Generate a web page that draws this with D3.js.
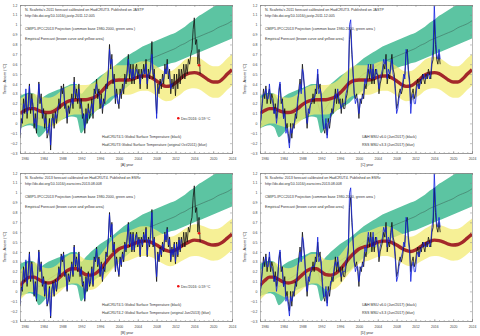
<!DOCTYPE html>
<html>
<head>
<meta charset="utf-8">
<script src="https://cdn.jsdelivr.net/npm/d3@7"></script>
<style>
body { margin: 0; background: #fff; }
svg { display: block; font-family: "Liberation Sans", Arial, sans-serif; }
</style>
</head>
<body>
<script>
// yearly grid for the bands and the forecast curves
var years = d3.range(1979, 2025);

// CMIP5 (green area) and its mean line
var greenLow = [-0.05,-0.03,-0.02,-0.04,-0.14,-0.1,-0.04,-0.01,0.02,0.04,0.06,0.07,0.06,-0.1,-0.02,0.06,0.12,0.15,0.18,0.21,0.26,0.3,0.34,0.38,0.42,0.46,0.49,0.52,0.54,0.56,0.58,0.59,0.61,0.62,0.64,0.66,0.68,0.7,0.72,0.74,0.76,0.78,0.8,0.82,0.84,0.86];
var greenHigh = [0.28,0.3,0.31,0.3,0.24,0.27,0.3,0.32,0.34,0.36,0.38,0.4,0.4,0.3,0.35,0.4,0.44,0.48,0.51,0.54,0.58,0.62,0.66,0.69,0.72,0.75,0.78,0.8,0.82,0.84,0.86,0.88,0.9,0.92,0.95,0.98,1.02,1.05,1.09,1.12,1.15,1.18,1.21,1.24,1.27,1.3];
var greenMid = [0.1,0.12,0.14,0.13,0.05,0.08,0.12,0.15,0.18,0.2,0.22,0.23,0.23,0.1,0.16,0.23,0.28,0.31,0.34,0.37,0.42,0.46,0.5,0.53,0.56,0.59,0.62,0.64,0.66,0.68,0.7,0.72,0.74,0.76,0.79,0.81,0.84,0.86,0.88,0.9,0.92,0.94,0.97,0.99,1.01,1.04];

// empirical forecast 2011 (panels A, C)
var brown2011 = [0.1,0.13,0.15,0.15,0.13,0.115,0.11,0.12,0.15,0.19,0.22,0.235,0.24,0.24,0.24,0.25,0.27,0.31,0.36,0.41,0.435,0.44,0.44,0.44,0.45,0.47,0.48,0.48,0.46,0.43,0.395,0.375,0.38,0.41,0.45,0.49,0.51,0.515,0.505,0.475,0.44,0.42,0.42,0.45,0.5,0.545];
var yellowHigh2011 = [0.25,0.28,0.3,0.3,0.28,0.265,0.26,0.27,0.3,0.34,0.37,0.385,0.39,0.39,0.39,0.4,0.42,0.46,0.51,0.56,0.585,0.59,0.59,0.59,0.6,0.62,0.63,0.63,0.61,0.58,0.545,0.525,0.53,0.56,0.6,0.645,0.665,0.675,0.665,0.635,0.6,0.58,0.58,0.61,0.66,0.7];
var yellowLow2011 = [-0.05,-0.02,0,0,-0.02,-0.035,-0.04,-0.03,0,0.04,0.07,0.085,0.09,0.09,0.09,0.1,0.12,0.16,0.21,0.26,0.285,0.29,0.29,0.29,0.3,0.32,0.33,0.33,0.31,0.28,0.245,0.225,0.23,0.26,0.29,0.33,0.35,0.355,0.345,0.315,0.28,0.26,0.26,0.29,0.34,0.385];

// empirical forecast 2013 (panels B, D)
var brown2013 = [0.06,0.11,0.145,0.145,0.12,0.095,0.085,0.095,0.125,0.17,0.21,0.23,0.23,0.2,0.17,0.165,0.18,0.22,0.28,0.34,0.39,0.43,0.45,0.46,0.48,0.5,0.51,0.51,0.495,0.47,0.44,0.415,0.405,0.42,0.45,0.48,0.505,0.52,0.515,0.5,0.48,0.47,0.475,0.5,0.54,0.58];
var yellowHigh2013 = [0.21,0.26,0.295,0.295,0.27,0.245,0.235,0.245,0.275,0.32,0.36,0.38,0.38,0.35,0.32,0.315,0.33,0.37,0.43,0.49,0.54,0.58,0.6,0.61,0.63,0.65,0.66,0.66,0.645,0.62,0.59,0.565,0.555,0.57,0.6,0.635,0.66,0.68,0.675,0.66,0.64,0.63,0.635,0.66,0.7,0.74];
var yellowLow2013 = [-0.09,-0.04,-0.005,-0.005,-0.03,-0.055,-0.065,-0.055,-0.025,0.02,0.06,0.08,0.08,0.05,0.02,0.015,0.03,0.07,0.13,0.19,0.24,0.28,0.3,0.31,0.33,0.35,0.36,0.36,0.345,0.32,0.29,0.265,0.255,0.27,0.3,0.325,0.35,0.36,0.355,0.34,0.32,0.31,0.315,0.34,0.38,0.42];

// quarterly anomalies, starting 1979 Q1
var hadcrut45 = [
 -0.15,0.05,0.0,0.25, 0.1,0.3,0.05,0.2, 0.4,0.1,0.3,0.15, -0.05,0.1,-0.1,0.2, 0.42,0.2,0.3,0.05,
 0.15,-0.05,0.1,-0.15, -0.1,0.05,-0.27,0.0, 0.1,-0.05,0.12,0.0, 0.1,0.25,0.15,0.38, 0.3,0.4,0.15,0.2,
 0.0,0.18,0.1,0.2, 0.3,0.15,0.47,0.25, 0.35,0.2,0.4,0.15, 0.25,0.05,0.1,-0.1, 0.15,0.0,0.2,0.05,
 0.1,0.25,0.05,0.35, 0.3,0.45,0.25,0.35, 0.15,0.3,0.1,0.25, 0.2,0.4,0.35,0.55, 0.8,0.55,0.7,0.4,
 0.5,0.2,0.35,0.25, 0.15,0.35,0.25,0.4, 0.3,0.5,0.4,0.55, 0.7,0.45,0.6,0.4, 0.6,0.4,0.55,0.6,
 0.45,0.55,0.35,0.55, 0.45,0.6,0.5,0.65, 0.35,0.55,0.45,0.6, 0.83,0.45,0.55,0.3, 0.1,0.4,0.3,0.45,
 0.35,0.5,0.4,0.6, 0.5,0.65,0.45,0.55, 0.3,0.45,0.35,0.5, 0.28,0.5,0.35,0.55, 0.4,0.55,0.45,0.6,
 0.45,0.6,0.5,0.65, 0.6,0.7,0.75,0.95, 1.07,0.8,0.85,0.6, 0.75,0.5
];
var hadcrut3 = [
 -0.12,0.0,0.05,0.2, 0.15,0.35,0.1,0.15, 0.38,0.15,0.25,0.2, 0.0,0.05,-0.05,0.15, 0.4,0.25,0.25,0.1,
 0.1,0.0,0.05,-0.1, -0.05,0.0,-0.22,0.05, 0.05,0.0,0.1,0.05, 0.15,0.2,0.2,0.35, 0.35,0.35,0.2,0.15,
 0.05,0.15,0.15,0.18, 0.25,0.2,0.42,0.3, 0.3,0.25,0.35,0.2, 0.2,0.1,0.05,-0.05, 0.1,0.05,0.15,0.1,
 0.15,0.2,0.1,0.3, 0.35,0.4,0.3,0.3, 0.2,0.25,0.15,0.2, 0.25,0.35,0.4,0.5, 0.75,0.6,0.65,0.45,
 0.45,0.25,0.3,0.2, 0.2,0.3,0.3,0.35, 0.35,0.45,0.45,0.5, 0.65,0.5,0.55,0.45, 0.55,0.45,0.5,0.55,
 0.5,0.5,0.4,0.5, 0.5,0.55,0.5,0.6, 0.4,0.5,0.5,0.55, 0.7,0.5,0.5,0.35, 0.05,0.35,0.35,0.4,
 0.4,0.45,0.45,0.55, 0.5,0.6,0.5,0.5, 0.35,0.4,0.4
];
var hadcrut42 = [
 -0.13,0.03,0.02,0.22, 0.12,0.32,0.08,0.18, 0.38,0.12,0.28,0.17, -0.03,0.08,-0.08,0.18, 0.4,0.22,0.28,0.07,
 0.13,-0.03,0.08,-0.13, -0.08,0.03,-0.25,0.02, 0.08,-0.03,0.1,0.02, 0.12,0.23,0.17,0.36, 0.32,0.38,0.17,0.18,
 0.02,0.16,0.12,0.19, 0.28,0.17,0.45,0.27, 0.33,0.22,0.38,0.17, 0.23,0.07,0.08,-0.08, 0.13,0.02,0.18,0.07,
 0.12,0.23,0.07,0.33, 0.32,0.43,0.27,0.33, 0.17,0.28,0.12,0.23, 0.22,0.38,0.37,0.53, 0.78,0.57,0.68,0.42,
 0.48,0.22,0.33,0.23, 0.17,0.33,0.27,0.38, 0.32,0.48,0.42,0.53, 0.68,0.47,0.58,0.42, 0.58,0.42,0.53,0.58,
 0.47,0.53,0.37,0.53, 0.47,0.58,0.52,0.63, 0.37,0.53,0.47,0.58, 0.8,0.47,0.53,0.32, 0.15,0.38,0.32,0.43,
 0.37,0.48,0.42,0.58, 0.52,0.63,0.47,0.53, 0.32,0.43,0.37,0.48, 0.3,0.48,0.37,0.52, 0.42,0.53
];
var uah60 = [
 -0.05,0.1,0.2,0.35, 0.25,0.38,0.2,0.3, 0.35,0.2,0.3,0.25, 0.1,0.2,0.05,0.15, 0.3,0.4,0.2,0.25,
 0.05,0.15,-0.05,0.0, -0.1,-0.2,0.0,-0.15, 0.0,-0.05,0.1,0.05, 0.2,0.35,0.45,0.35, 0.6,0.45,0.35,0.1,
 -0.05,0.1,0.15,0.2, 0.2,0.3,0.2,0.35, 0.3,0.5,0.35,0.4, 0.25,0.05,-0.05,-0.1, 0.0,-0.12,0.05,-0.05,
 0.05,0.15,0.1,0.2, 0.35,0.2,0.3,0.2, 0.25,0.1,0.25,0.15, 0.15,0.25,0.3,0.4, 0.85,0.95,0.7,0.5,
 0.3,0.25,0.3,0.2, 0.05,0.25,0.2,0.3, 0.25,0.4,0.35,0.45, 0.55,0.45,0.6,0.4, 0.55,0.4,0.55,0.5,
 0.5,0.3,0.4,0.45, 0.5,0.6,0.55,0.7, 0.4,0.5,0.45,0.6, 0.7,0.55,0.5,0.35, 0.15,0.2,0.3,0.35,
 0.3,0.35,0.45,0.5, 0.7,0.75,0.55,0.45, 0.2,0.3,0.35,0.25, 0.3,0.4,0.45,0.35, 0.45,0.4,0.5,0.45,
 0.4,0.5,0.45,0.55, 0.5,0.45,0.6,0.65, 1.05,0.8,0.65,0.6, 0.7,0.6
];
var rss33 = [
 0.0,0.05,0.25,0.3, 0.3,0.35,0.25,0.25, 0.4,0.25,0.25,0.2, 0.1,0.15,0.0,0.1, 0.35,0.42,0.25,0.2,
 0.05,0.1,-0.1,-0.05, -0.15,-0.25,-0.05,-0.1, -0.05,0.0,0.05,0.1, 0.25,0.3,0.4,0.3, 0.55,0.5,0.3,0.15,
 0.0,0.15,0.1,0.2, 0.25,0.25,0.25,0.3, 0.35,0.55,0.3,0.35, 0.3,0.1,-0.05,-0.05, 0.05,-0.15,0.0,0.0,
 0.1,0.1,0.15,0.25, 0.3,0.25,0.35,0.25, 0.2,0.15,0.2,0.2, 0.2,0.3,0.35,0.45, 1.0,1.05,0.75,0.55,
 0.3,0.2,0.25,0.25, 0.1,0.2,0.25,0.25, 0.3,0.45,0.4,0.5, 0.6,0.5,0.55,0.45, 0.6,0.45,0.5,0.55,
 0.45,0.35,0.45,0.5, 0.55,0.65,0.6,0.65, 0.45,0.55,0.5,0.55, 0.65,0.5,0.45,0.3, 0.1,0.15,0.25,0.3,
 0.35,0.4,0.5,0.45, 0.75,0.72,0.5,0.4, 0.1,0.25,0.3,0.2, 0.2,0.35,0.4,0.35, 0.4,0.45,0.45,0.5,
 0.45,0.45,0.5,0.5, 0.45,0.5,0.65,0.75, 1.2,0.9,0.7,0.65, 0.75,0.65
];

var xTicks = d3.range(1980, 2025, 4);
var yTicks = d3.range(-3, 13).map(function (d) { return d / 10; });

var headA = ["N. Scafetta's 2011 forecast calibrated on HadCRUT3. Published on JASTP",
             "http://dx.doi.org/10.1016/j.jastp.2011.12.005"];
var headB = ["N. Scafetta: 2013 forecast calibrated on HadCRUT4. Published on ESRv",
             "http://dx.doi.org/10.1016/j.earscirev.2013.08.008"];
var cmipText = "CMIP5-IPCC2013 Projection (common base 1980-2000, green area )";
var empText = "Empirical Forecast (brown curve and yellow area)";

var panels = [
  {dx: 0, dy: 0, tag: "[A]", head: headA, brown: brown2011, yLow: yellowLow2011, yHigh: yellowHigh2011,
   black: hadcrut45, blue: hadcrut3, legX: 102, dot: true,
   legend: ["HadCRUT4.5 Global Surface Temperature (black)", "HadCRUT3 Global Surface Temperature (original Oct/2011) (blue)"]},
  {dx: 240, dy: 0, tag: "[C]", head: headA, brown: brown2011, yLow: yellowLow2011, yHigh: yellowHigh2011,
   black: uah60, blue: rss33, legX: 122, dot: false,
   legend: ["UAH MSU v6.0 (Jun/2017) (black)", "RSS MSU v3.3 (Jun/2017) (blue)"]},
  {dx: 0, dy: 168, tag: "[B]", head: headB, brown: brown2013, yLow: yellowLow2013, yHigh: yellowHigh2013,
   black: hadcrut45, blue: hadcrut42, legX: 102, dot: true,
   legend: ["HadCRUT4.5 Global Surface Temperature (black)", "HadCRUT4.2 Global Surface Temperature (original Jun/2013) (blue)"]},
  {dx: 240, dy: 168, tag: "[D]", head: headB, brown: brown2013, yLow: yellowLow2013, yHigh: yellowHigh2013,
   black: uah60, blue: rss33, legX: 122, dot: false,
   legend: ["UAH MSU v6.0 (Jun/2017) (black)", "RSS MSU v3.3 (Jun/2017) (blue)"]}
];

var svg = d3.select("body").append("svg")
    .attr("width", 480)
    .attr("height", 336);

svg.append("defs").append("clipPath").attr("id", "plotclip")
    .append("rect").attr("x", 20).attr("y", 5).attr("width", 212).attr("height", 148);

var x = d3.scaleLinear().domain([1979, 2024]).range([20, 232]);
var y = d3.scaleLinear().domain([-0.3, 1.2]).range([153, 5]);

function band(lo, hi) {
  return d3.area()
    .x(function (d, i) { return x(years[i]); })
    .y0(function (d, i) { return y(lo[i]); })
    .y1(function (d, i) { return y(hi[i]); })
    .curve(d3.curveMonotoneX)(years);
}
var yearLine = d3.line()
    .x(function (d, i) { return x(years[i]); })
    .y(function (d) { return y(d); })
    .curve(d3.curveMonotoneX);
var qLine = d3.line()
    .x(function (d, i) { return x(1979 + i / 4); })
    .y(function (d) { return y(d); });

panels.forEach(function (p) {
  var g = svg.append("g").attr("transform", "translate(" + p.dx + "," + p.dy + ")");
  var plot = g.append("g").attr("clip-path", "url(#plotclip)");

  plot.append("path").attr("d", band(greenLow, greenHigh)).attr("fill", "#5cc4a2");
  plot.append("path").attr("d", yearLine(greenMid)).attr("fill", "none")
      .attr("stroke", "#3f6f60").attr("stroke-width", 0.6);
  plot.append("path").attr("d", band(p.yLow, p.yHigh)).attr("fill", "#f2ea6e").attr("fill-opacity", 0.72);

  plot.append("path").attr("d", yearLine(p.brown)).attr("fill", "none")
      .attr("stroke", "#a3282a").attr("stroke-width", 3.4);

  plot.append("path").attr("d", qLine(p.black)).attr("fill", "none")
      .attr("stroke", "#111").attr("stroke-width", 0.8);
  plot.append("path").attr("d", qLine(p.blue)).attr("fill", "none")
      .attr("stroke", "#1020e0").attr("stroke-width", 0.8);

  if (p.dot) {
    plot.append("circle").attr("cx", x(2017.0)).attr("cy", y(0.59)).attr("r", 1.3).attr("fill", "#ee1111");
    g.append("circle").attr("cx", 178.3).attr("cy", 118.3).attr("r", 1.3).attr("fill", "#ee1111");
    g.append("text").attr("x", 181).attr("y", 119.6).attr("font-size", 3.6).attr("fill", "#333")
        .text("Dec/2016: 0.59 \u00b0C");
  }

  // axes, ticks pointing inward
  var ax = [
    d3.axisBottom(x).tickValues(xTicks).tickFormat(d3.format("d")).tickSize(-2).tickPadding(4.6),
    d3.axisTop(x).tickValues(xTicks).tickFormat("").tickSize(-2)
  ];
  g.append("g").attr("transform", "translate(0,153)").call(ax[0]);
  g.append("g").attr("transform", "translate(0,5)").call(ax[1]);
  g.append("g").attr("transform", "translate(0,153)")
      .call(d3.axisBottom(x).ticks(45).tickFormat("").tickSize(-1));
  g.append("g").attr("transform", "translate(0,5)")
      .call(d3.axisTop(x).ticks(45).tickFormat("").tickSize(-1));
  g.append("g").attr("transform", "translate(20,0)")
      .call(d3.axisLeft(y).tickValues(yTicks).tickFormat(function (d) { return d3.format("")(Math.round(d * 10) / 10); })
        .tickSize(-2).tickPadding(2.6));
  g.append("g").attr("transform", "translate(232,0)")
      .call(d3.axisRight(y).tickValues(yTicks).tickFormat("").tickSize(-2));

  g.selectAll(".domain").attr("stroke", "#888").attr("stroke-width", 0.6);
  g.selectAll(".tick line").attr("stroke", "#888").attr("stroke-width", 0.5);
  g.selectAll(".tick text").attr("font-size", 3.4).attr("fill", "#444")
      .attr("font-family", "Liberation Sans, Arial, sans-serif");

  g.append("text").attr("transform", "translate(6,79) rotate(-90)").attr("text-anchor", "middle")
      .attr("font-size", 4).attr("fill", "#333").text("Temp. Anom (\u00b0C)");
  g.append("text").attr("x", 127).attr("y", 165.6).attr("text-anchor", "middle")
      .attr("font-size", 3.6).attr("fill", "#333").text(p.tag + "  year");

  var heads = [[p.head[0], 11.3], [p.head[1], 17.3], [cmipText, 30.3], [empText, 40.3]];
  heads.forEach(function (h) {
    g.append("text").attr("x", 25).attr("y", h[1]).attr("font-size", 3.6).attr("fill", "#333").text(h[0]);
  });
  g.append("text").attr("x", p.legX).attr("y", 138.4).attr("font-size", 3.6).attr("fill", "#333").text(p.legend[0]);
  g.append("text").attr("x", p.legX).attr("y", 146.4).attr("font-size", 3.6).attr("fill", "#333").text(p.legend[1]);
});
</script>
</body>
</html>
